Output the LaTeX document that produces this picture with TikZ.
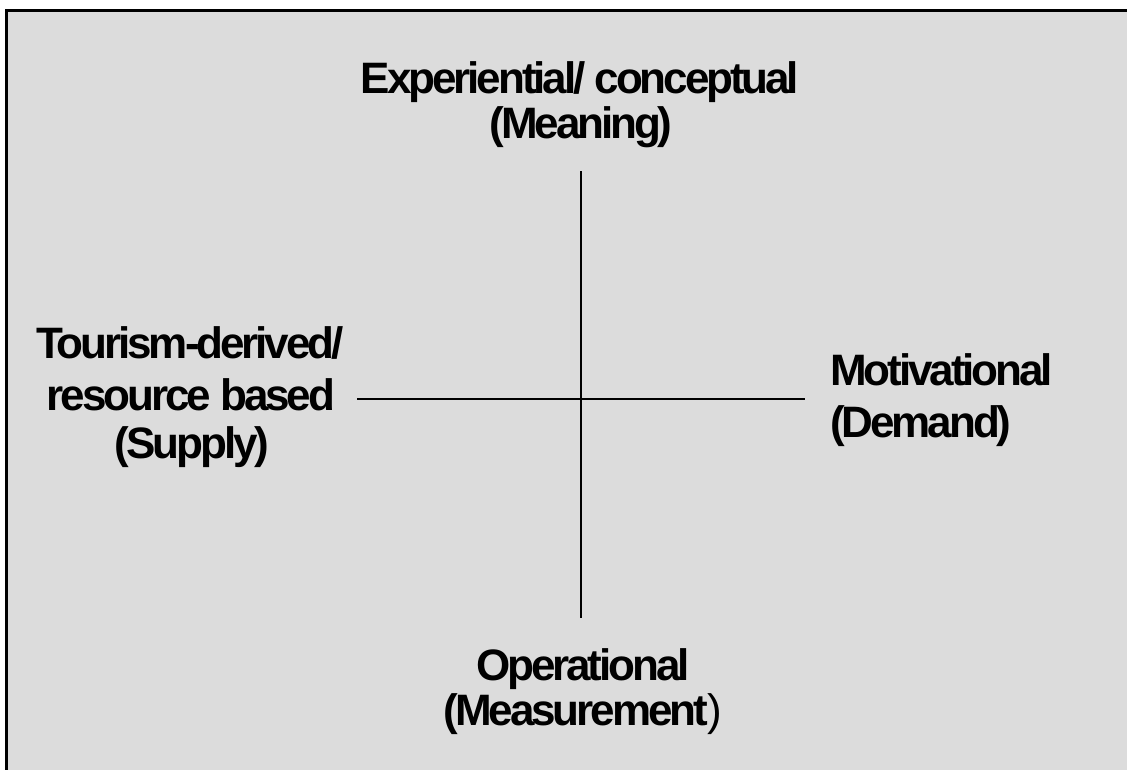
\documentclass[tikz,border=0pt]{standalone}
\usepackage{fontspec}
\setmainfont{Liberation Sans}[LetterSpace=-7]
\definecolor{bgray}{HTML}{DCDCDC}
\tikzset{
  lbl/.style={font=\fontsize{44}{50}\selectfont\bfseries, inner sep=0pt, text=black},
  axis/.style={line width=2pt, draw=black}
}
\begin{document}
\begin{tikzpicture}[x=1pt,y=-1pt]
\useasboundingbox (0,0) rectangle (1127,769);
\fill[white] (0,0) rectangle (1127,769);
\draw[line width=3pt, fill=bgray] (6,10) rectangle (1150,790);
% axes
\coordinate (vt) at (581,171);
\coordinate (vb) at (581,618);
\coordinate (hl) at (357,399);
\coordinate (hr) at (805,399);
\draw[axis] (vt) -- (vb);
\draw[axis] (hl) -- (hr);
% top
\node[lbl, anchor=base] (top1) at (580,93) {Experiential/ conceptual};
\node[lbl, anchor=base] (top2) at (581,138) {(Meaning)};
% bottom
\node[lbl, anchor=base] (bot1) at (583,680) {Operational};
\node[lbl, anchor=base] (bot2) at (583,725) {(Measurement{\mdseries)}};
% left
\node[lbl, anchor=base] (lft1) at (190,358) {Tourism-derived/};
\node[lbl, anchor=base] (lft2) at (191,410) {resource based};
\node[lbl, anchor=base] (lft3) at (192,458) {(Supply)};
% right
\node[lbl, anchor=base west] (rgt1) at (830,385) {Motivational};
\node[lbl, anchor=base west] (rgt2) at (830,437) {(Demand)};
\end{tikzpicture}
\end{document}
